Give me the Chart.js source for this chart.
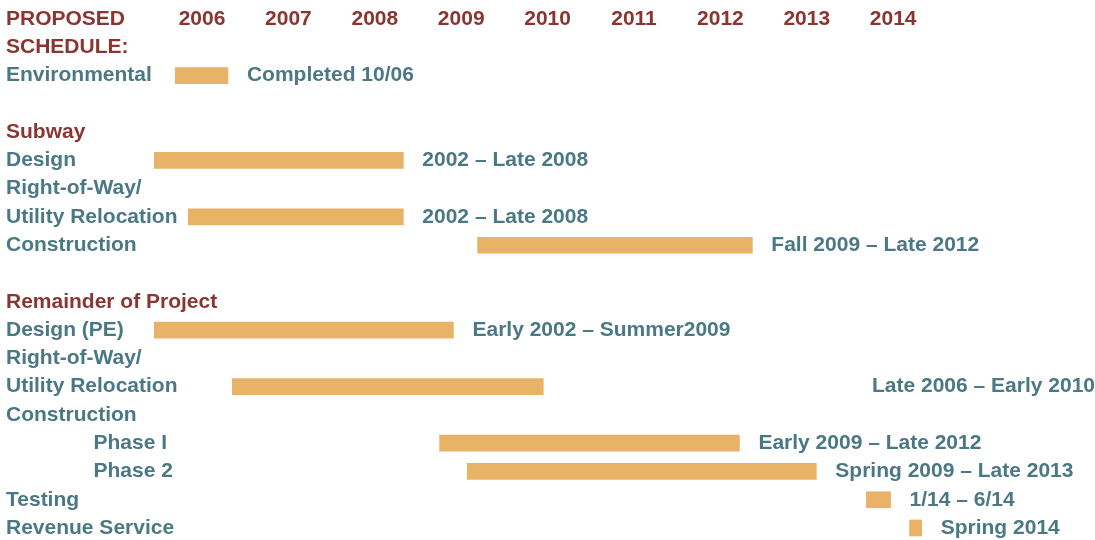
<!DOCTYPE html>
<html lang="en">

<head>
    <meta charset="UTF-8">
    <script src="https://cdn.jsdelivr.net/npm/chart.js@4.4.0/dist/chart.umd.min.js"></script>
    <title>Proposed Schedule</title>
    <style>
        body { margin: 0; background: #fff; }
        #wrap { width: 1095px; height: 540px; }
    </style>
</head>

<body>
    <div id="wrap"><canvas id="myChart"></canvas></div>

    <script>
// rows of the schedule ('' = blank spacer row)
const rows = ['PROPOSED', 'SCHEDULE:', 'Environmental', '',
    'Subway', 'Design', 'Right-of-Way/', 'Utility Relocation', 'Construction', '',
    'Remainder of Project', 'Design (PE)', 'Right-of-Way/', 'Utility Relocation', 'Construction',
    '               Phase I', '               Phase 2', 'Testing', 'Revenue Service']
const headingRows = [0, 1, 4, 10]

const years = [2006, 2007, 2008, 2009, 2010, 2011, 2012, 2013, 2014]

// bar start / end in decimal years, one per row (null = no bar on that row)
const barStart = [null, null, 2006.19, null, null, 2002, null, 2006.34, 2009.69, null,
    null, 2002, null, 2006.85, null, 2009.25, 2009.57, 2014.19, 2014.69]
const barEnd = [null, null, 2006.80, null, null, 2008.83, null, 2008.83, 2012.87, null,
    null, 2009.41, null, 2010.45, null, 2012.72, 2013.61, 2014.47, 2014.83]

const notes = ['', '', 'Completed 10/06', '', '', '2002 – Late 2008', '', '2002 – Late 2008',
    'Fall 2009 – Late 2012', '', '', 'Early 2002 – Summer2009', '', 'Late 2006 – Early 2010', '',
    'Early 2009 – Late 2012', 'Spring 2009 – Late 2013', '1/14 – 6/14', 'Spring 2014']
const rightAlignedNote = 13 // this one sits at the far right

const red = '#8b3531'
const teal = '#4a7884'
const barColor = '#e8b366'

Chart.defaults.font.family = "'Liberation Sans', Arial, sans-serif"
Chart.defaults.font.weight = 'bold'
Chart.defaults.font.size = 21

// floating bars [start, end]
let barData = barStart.map((s, i) => s === null ? null : [s, barEnd[i]])

const textPlugin = {
    id: 'scheduleText',
    afterDatasetsDraw(chart) {
        const { ctx, scales: { x, y }, chartArea } = chart
        ctx.save()
        ctx.font = "bold 21px 'Liberation Sans', Arial, sans-serif"
        ctx.textBaseline = 'middle'

        //year header on the first row
        ctx.fillStyle = red
        ctx.textAlign = 'center'
        years.forEach(yr => {
            ctx.fillText(String(yr), x.getPixelForValue(yr + 0.5), y.getPixelForValue(0))
        })

        //notes next to the bars
        ctx.fillStyle = teal
        notes.forEach((txt, i) => {
            if (!txt) return
            const yy = y.getPixelForValue(i)
            if (i === rightAlignedNote) {
                ctx.textAlign = 'right'
                ctx.fillText(txt, chartArea.right, yy)
            } else {
                ctx.textAlign = 'left'
                ctx.fillText(txt, x.getPixelForValue(barData[i][1]) + 19, yy)
            }
        })
        ctx.restore()
    }
}

const ctx = document.getElementById('myChart').getContext('2d')
const myChart = new Chart(ctx, {
    type: 'bar',
    data: {
        labels: rows,
        datasets: [{
            data: barData,
            backgroundColor: barColor,
            borderWidth: 0,
            borderSkipped: false,
            barThickness: 16,
            clip: { left: 0, top: false, right: false, bottom: false }
        }]
    },
    options: {
        indexAxis: 'y',
        responsive: true,
        maintainAspectRatio: false,
        animation: false,
        layout: { padding: { left: 6, top: 19, bottom: 12, right: 0 } },
        plugins: {
            legend: { display: false },
            tooltip: { enabled: false }
        },
        scales: {
            x: {
                type: 'linear',
                min: 2005.944,
                max: 2016.836,
                display: false
            },
            y: {
                offset: false,
                grid: { display: false },
                border: { display: false },
                afterFit: (scale) => { scale.width = 148 },
                ticks: {
                    autoSkip: false,
                    // mirror so the long labels are not clipped to the axis box
                    mirror: true,
                    crossAlign: 'near',
                    padding: -148,
                    color: (c) => headingRows.includes(c.index) ? red : teal
                }
            }
        }
    },
    plugins: [textPlugin]
})
    </script>
</body>

</html>
